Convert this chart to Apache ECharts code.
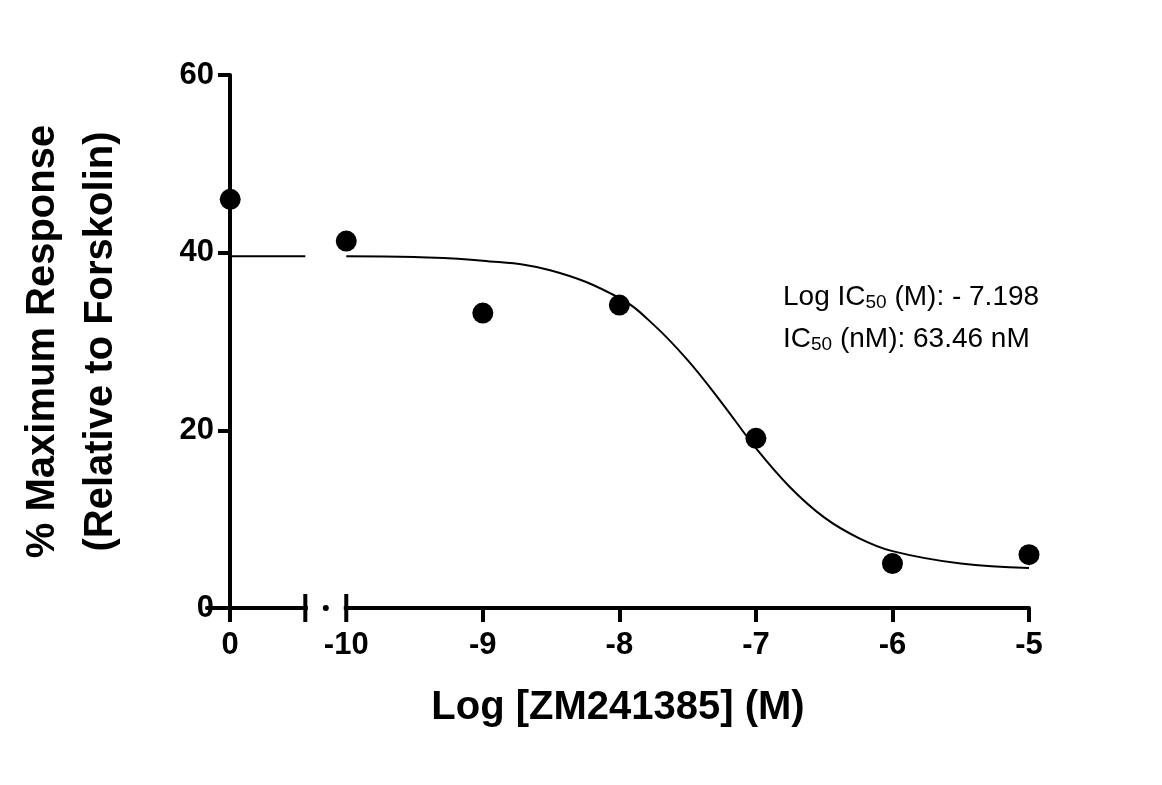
<!DOCTYPE html>
<html><head><meta charset="utf-8">
<script src="https://cdn.jsdelivr.net/npm/echarts@6/dist/echarts.min.js"></script>
<style>html,body{margin:0;background:#fff}#c{width:1162px;height:785px}</style>
</head><body><div id="c"></div>
<script>
// x position -10.85 represents the "0" (no antagonist) control
const ZERO_POS = -10.85;
const AXIS_START = -11.02;
const pointsX = [ZERO_POS, -10, -9, -8, -7, -6, -5];
const pointsY = [46, 41.3, 33.2, 34.1, 19.1, 5, 6];
const curveX = [-10, -9.5, -9, -8.5, -8, -7.75, -7.5, -7.25, -7, -6.75, -6.5, -6.25, -6, -5.5, -5];
const curveY = [39.6, 39.5, 39.1, 38.0, 34.9, 31.9, 27.9, 23.1, 18.0, 13.6, 10.2, 7.9, 6.4, 5.0, 4.5];
const leftSegX = [ZERO_POS, -10.3];
const leftSegY = [39.6, 39.6];
const tickLabelPos = [ZERO_POS, -10, -9, -8, -7, -6, -5];
const F = 'Liberation Sans, Arial, sans-serif';
const zip = (a, b) => a.map((v, i) => [v, b[i]]);
const chart = echarts.init(document.getElementById('c'));
chart.setOption({
  animation: false,
  grid: {left: 207, right: 133, top: 75, bottom: 177},
  xAxis: {type: 'value', min: AXIS_START, max: -5,
    axisLine: {show: true, lineStyle: {width: 4, color: '#000'}}, splitLine: {show: false},
    axisTick: {show: true, customValues: [ZERO_POS, -9, -8, -7, -6, -5], length: 14, lineStyle: {width: 4, color: '#000'}},
    axisLabel: {customValues: tickLabelPos, margin: 22, fontSize: 31, fontWeight: 'bold', fontFamily: F, color: '#000',
      formatter: v => v < -10.5 ? '0' : String(v)},
    name: 'Log [ZM241385] (M)', nameLocation: 'middle', nameGap: 80,
    nameTextStyle: {fontSize: 40, fontWeight: 'bold', fontFamily: F, color: '#000'}},
  yAxis: {type: 'value', min: 0, max: 60, interval: 20, offset: -23,
    axisLine: {show: true, lineStyle: {width: 4, color: '#000'}},
    axisTick: {show: true, length: 12, lineStyle: {width: 4, color: '#000'}},
    splitLine: {show: false},
    axisLabel: {margin: 16, fontSize: 31, fontWeight: 'bold', fontFamily: F, color: '#000'},
    name: '% Maximum Response\n(Relative to Forskolin)', nameLocation: 'middle', nameGap: 100,
    nameTextStyle: {fontSize: 40, fontWeight: 'bold', fontFamily: F, color: '#000', lineHeight: 58}},
  series: [
    {type: 'scatter', data: [[-10.15, 0]], symbol: 'rect', symbolSize: [36, 10], itemStyle: {color: '#fff', opacity: 1}, silent: true},
    {type: 'scatter', data: [[-10.3, 0], [-10, 0]], symbol: 'rect', symbolSize: [4, 28], itemStyle: {color: '#000', opacity: 1}, clip: false},
    {type: 'scatter', data: [[-10.15, 0]], symbol: 'circle', symbolSize: 6, itemStyle: {color: '#000', opacity: 1}, clip: false},
    {type: 'line', data: zip(leftSegX, leftSegY), symbol: 'none', lineStyle: {width: 2, color: '#000'}},
    {type: 'line', data: zip(curveX, curveY), smooth: 0.4, symbol: 'none', lineStyle: {width: 2, color: '#000'}},
    {type: 'scatter', data: zip(pointsX, pointsY), symbolSize: 21, itemStyle: {color: '#000', opacity: 1}, clip: false}
  ],
  graphic: [{type: 'text', left: 783, top: 276, style: {
    text: 'Log IC{s|50} (M): - 7.198\nIC{s|50} (nM): 63.46 nM',
    font: '28px ' + F, fill: '#000', lineHeight: 42,
    rich: {s: {fontSize: 19, fontFamily: F, padding: [12, 0, 0, 0], fill: '#000'}}}}]
});
</script></body></html>
